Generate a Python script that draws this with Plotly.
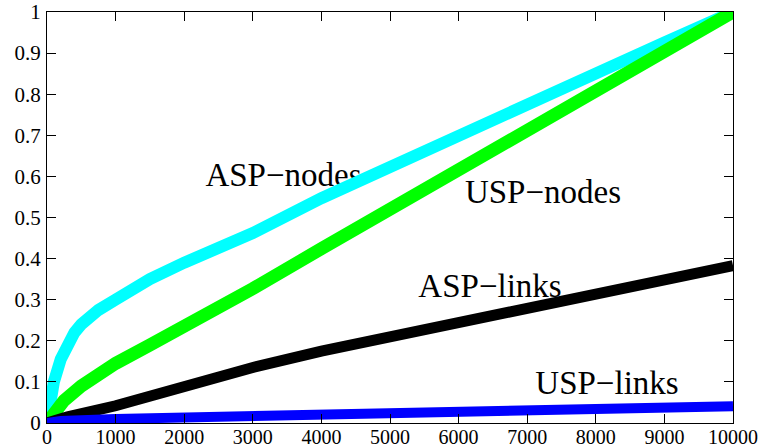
import plotly.graph_objects as go

# ---- data ----
asp_nodes_x = [0, 50, 100, 200, 300, 400, 500, 750, 1000, 1500, 2000, 3000, 4000, 5000, 6000, 7000, 8000, 9000, 10000]
asp_nodes_y = [0, 0.06, 0.10, 0.155, 0.19, 0.22, 0.24, 0.275, 0.30, 0.35, 0.39, 0.462, 0.547, 0.624, 0.70, 0.775, 0.852, 0.926, 1.0]

usp_nodes_x = [0, 250, 500, 1000, 1500, 2000, 3000, 4000, 5000, 6000, 7000, 8000, 9000, 10000]
usp_nodes_y = [0, 0.055, 0.09, 0.145, 0.19, 0.235, 0.327, 0.424, 0.52, 0.616, 0.712, 0.808, 0.904, 1.0]

asp_links_x = [0, 300, 1000, 2000, 3000, 4000, 5000, 6000, 7000, 8000, 9000, 10000]
asp_links_y = [0, 0.015, 0.042, 0.09, 0.135, 0.175, 0.21, 0.245, 0.277, 0.31, 0.345, 0.383]

usp_links_x = [0, 200, 1000, 2000, 5000, 10000]
usp_links_y = [0, 0.005, 0.01, 0.014, 0.026, 0.041]

label_text = ["ASP\u2212nodes", "USP\u2212nodes", "ASP\u2212links", "USP\u2212links"]
label_x = [3447, 7230, 6458, 8163]
label_y = [0.597, 0.556, 0.327, 0.09]

x_ticks = [0, 1000, 2000, 3000, 4000, 5000, 6000, 7000, 8000, 9000, 10000]
x_ticktext = ["0", "1000", "2000", "3000", "4000", "5000", "6000", "7000", "8000", "9000", "10000"]
y_ticks = [0, 0.1, 0.2, 0.3, 0.4, 0.5, 0.6, 0.7, 0.8, 0.9, 1]
y_ticktext = ["0", "0.1", "0.2", "0.3", "0.4", "0.5", "0.6", "0.7", "0.8", "0.9", "1"]

SERIF = "Liberation Serif"

fig = go.Figure()

# labels drawn underneath the curves
fig.add_trace(go.Scatter(
    x=label_x, y=label_y, text=label_text, mode="text",
    textposition="middle center",
    textfont=dict(family=SERIF, size=33, color="black"),
    showlegend=False, hoverinfo="skip", cliponaxis=False))

series = [
    (asp_nodes_x, asp_nodes_y, "#00FFFF", 12),
    (usp_nodes_x, usp_nodes_y, "#00FF00", 13),
    (asp_links_x, asp_links_y, "#000000", 11),
    (usp_links_x, usp_links_y, "#0000FF", 10),
]
for xs, ys, col, w in series:
    fig.add_trace(go.Scatter(
        x=xs, y=ys, mode="lines",
        line=dict(color=col, width=w),
        showlegend=False, hoverinfo="skip", cliponaxis=False))

axis_common = dict(
    showline=True, linecolor="black", linewidth=1.2, mirror="ticks",
    ticks="inside", ticklen=9, tickwidth=1, tickcolor="black",
    showgrid=False, zeroline=False, automargin=False,
)

fig.update_layout(
    width=761, height=448,
    margin=dict(l=47, r=28, t=12, b=25),
    paper_bgcolor="white", plot_bgcolor="white",
    xaxis=dict(range=[0, 10000], tickvals=x_ticks, ticktext=x_ticktext,
               ticklabelstandoff=-4,
               tickfont=dict(family=SERIF, size=20, color="black"),
               **axis_common),
    yaxis=dict(range=[0, 1], tickvals=y_ticks, ticktext=y_ticktext,
               ticklabelstandoff=1,
               tickfont=dict(family=SERIF, size=21, color="black"),
               **axis_common),
)

fig.write_html("out.html",
               config={"displayModeBar": False},
               post_script="document.body.style.margin='0';document.body.style.padding='0';")
